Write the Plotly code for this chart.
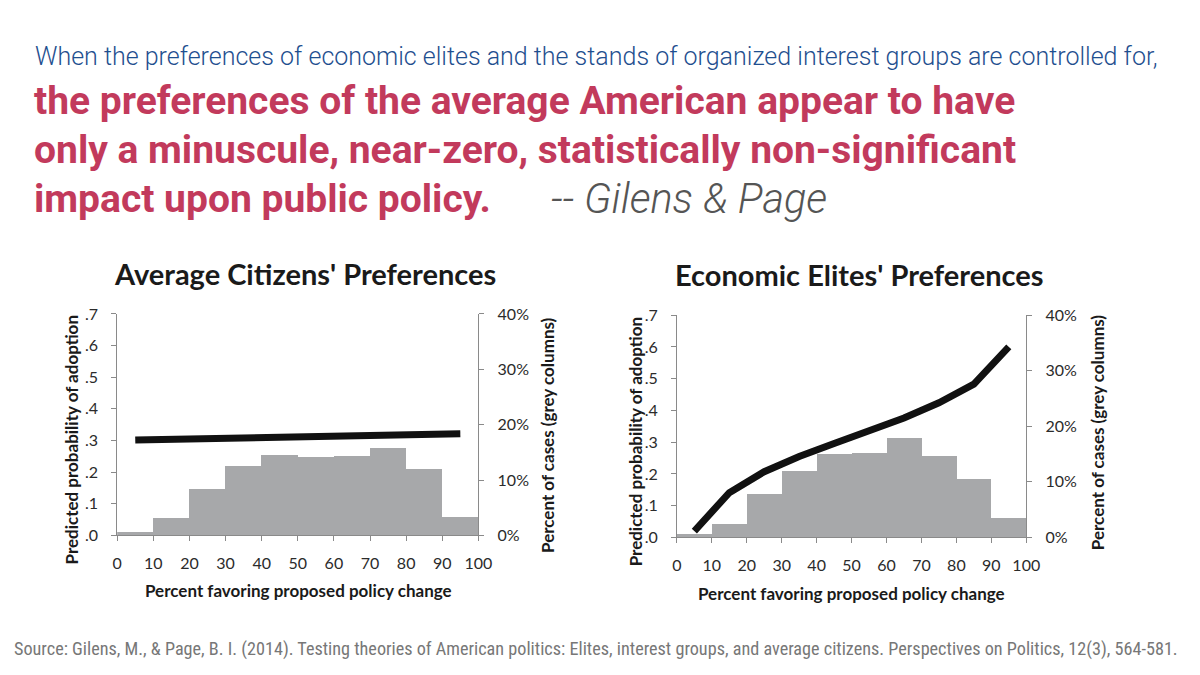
import plotly.graph_objects as go

# ---- data ----
bins = [5, 15, 25, 35, 45, 55, 65, 75, 85, 95]
avg_pct_cases = [0.6, 3.2, 8.4, 12.6, 14.5, 14.2, 14.4, 15.8, 12.0, 3.4]
avg_prob = [0.302, 0.304, 0.306, 0.308, 0.310, 0.312, 0.313, 0.314, 0.316, 0.321]
elite_pct_cases = [0.5, 2.3, 7.8, 12.0, 15.0, 15.1, 17.8, 14.6, 10.4, 3.4]
elite_prob = [0.02, 0.141, 0.207, 0.255, 0.296, 0.335, 0.376, 0.424, 0.483, 0.60]

x_ticks = [0, 10, 20, 30, 40, 50, 60, 70, 80, 90, 100]
prob_ticks = [0, 0.1, 0.2, 0.3, 0.4, 0.5, 0.6, 0.7]
prob_labels = [".0", ".1", ".2", ".3", ".4", ".5", ".6", ".7"]
pct_ticks = [0, 10, 20, 30, 40]
pct_labels = ["0%", "10%", "20%", "30%", "40%"]

BAR = "#a7a8aa"
AX = "#8a8a8a"
TXT = "#2b2b2b"
FONT = "Lato, Open Sans, sans-serif"

fig = go.Figure()

# left chart: base axis y (percent, right side), overlay y2 (prob, left side)
fig.add_trace(go.Bar(x=bins, y=avg_pct_cases, width=10, marker=dict(color=BAR, line=dict(width=0)),
                     xaxis="x", yaxis="y", showlegend=False))
fig.add_trace(go.Scatter(x=bins, y=avg_prob, mode="lines",
                         line=dict(color="#111111", width=7), xaxis="x", yaxis="y2", showlegend=False))
# right chart
fig.add_trace(go.Bar(x=bins, y=elite_pct_cases, width=10, marker=dict(color=BAR, line=dict(width=0)),
                     xaxis="x2", yaxis="y3", showlegend=False))
fig.add_trace(go.Scatter(x=bins, y=elite_prob, mode="lines",
                         line=dict(color="#111111", width=7), xaxis="x2", yaxis="y4", showlegend=False))

W, H = 1200, 675
def fx(px): return px / W
def fy(py): return 1 - py / H

L = dict(x0=114, x1=481, y0=312.7, y1=540.7)
R = dict(x0=682.7, x1=1037.7, y0=314, y1=542.7)

tickfont = dict(family=FONT, size=16, color=TXT)

def xaxis(d, anchor):
    return dict(domain=[fx(d["x0"]), fx(d["x1"])], range=[0, 100], tickvals=x_ticks,
                showline=True, linecolor=AX, linewidth=1, ticks="outside", ticklen=5, tickcolor=AX,
                showgrid=False, zeroline=False, tickfont=tickfont, anchor=anchor, ticklabelstandoff=8,
                fixedrange=True)

def pct_axis(d, anchor):
    return dict(domain=[fy(d["y1"]), fy(d["y0"])], range=[0, 40], tickvals=pct_ticks, ticktext=pct_labels,
                side="right", showline=True, linecolor=AX, linewidth=1, ticks="outside", ticklen=5,
                tickcolor=AX, showgrid=False, zeroline=False, tickfont=tickfont, anchor=anchor,
                ticklabelstandoff=10)

def prob_axis(overlay, anchor):
    return dict(range=[0, 0.7], tickvals=prob_ticks, ticktext=prob_labels, side="left",
                overlaying=overlay, showline=True, linecolor=AX, linewidth=1, ticks="outside",
                ticklen=5, tickcolor=AX, showgrid=False, zeroline=False, tickfont=tickfont,
                anchor=anchor, ticklabelstandoff=10)

annotations = []
def ann(text, x, y, size, color, family, xanchor="left", yanchor="middle", angle=0, bold=False, italic=False, weight=None):
    t = text
    if bold:
        t = "<b>" + t + "</b>"
    if italic:
        t = "<i>" + t + "</i>"
    f = dict(family=family, size=size, color=color)
    if weight is not None:
        f["weight"] = weight
    annotations.append(dict(text=t, x=fx(x), y=fy(y), xref="paper", yref="paper", showarrow=False,
                            xanchor=xanchor, yanchor=yanchor, textangle=angle, font=f))

HEAD = "Roboto, Liberation Sans, sans-serif"
RED = "#c23a5c"
ann("When the preferences of economic elites and the stands of organized interest groups are controlled for,",
    28, 48, 25, "#1f4f8f", HEAD, weight=300)
ann("the preferences of the average American appear to have", 27, 94, 39, RED, HEAD, bold=True)
ann("only a minuscule, near-zero, statistically non-significant", 27, 144, 39, RED, HEAD, bold=True)
ann("impact upon public policy.", 27, 194, 39, RED, HEAD, bold=True)
ann("-- Gilens &amp; Page", 553, 194, 41.5, "#555555", HEAD, italic=True, weight=300)

ann("Average Citizens' Preferences", 305, 271, 29, "#1a1a1a", FONT, xanchor="center", bold=True)
ann("Economic Elites' Preferences", 868, 272, 29, "#1a1a1a", FONT, xanchor="center", bold=True)

ann("Predicted probability of adoption", 68, 442, 17, "#1a1a1a", FONT, xanchor="center", angle=-90, bold=True)
ann("Percent of cases (grey columns)", 551, 437, 17, "#1a1a1a", FONT, xanchor="center", angle=-90, bold=True)
ann("Percent favoring proposed policy change", 298, 597, 17, "#1a1a1a", FONT, xanchor="center", bold=True)

ann("Predicted probability of adoption", 641, 444, 17, "#1a1a1a", FONT, xanchor="center", angle=-90, bold=True)
ann("Percent of cases (grey columns)", 1110, 434, 17, "#1a1a1a", FONT, xanchor="center", angle=-90, bold=True)
ann("Percent favoring proposed policy change", 860, 600, 17, "#1a1a1a", FONT, xanchor="center", bold=True)

ann("Source: Gilens, M., &amp; Page, B. I. (2014). Testing theories of American politics: Elites, interest groups, and average citizens. Perspectives on Politics, 12(3), 564-581.",
    601, 657, 18.2, "#777777", "Liberation Sans Narrow, Roboto Condensed, Liberation Sans, sans-serif", xanchor="center")

fig.update_layout(
    width=W, height=H, margin=dict(l=0, r=0, t=0, b=0),
    paper_bgcolor="white", plot_bgcolor="white", bargap=0,
    xaxis=xaxis(L, "y"), yaxis=pct_axis(L, "x"), yaxis2=prob_axis("y", "x"),
    xaxis2=xaxis(R, "y3"), yaxis3=pct_axis(R, "x2"), yaxis4=prob_axis("y3", "x2"),
    annotations=annotations,
)

fig.write_html("out.html")
